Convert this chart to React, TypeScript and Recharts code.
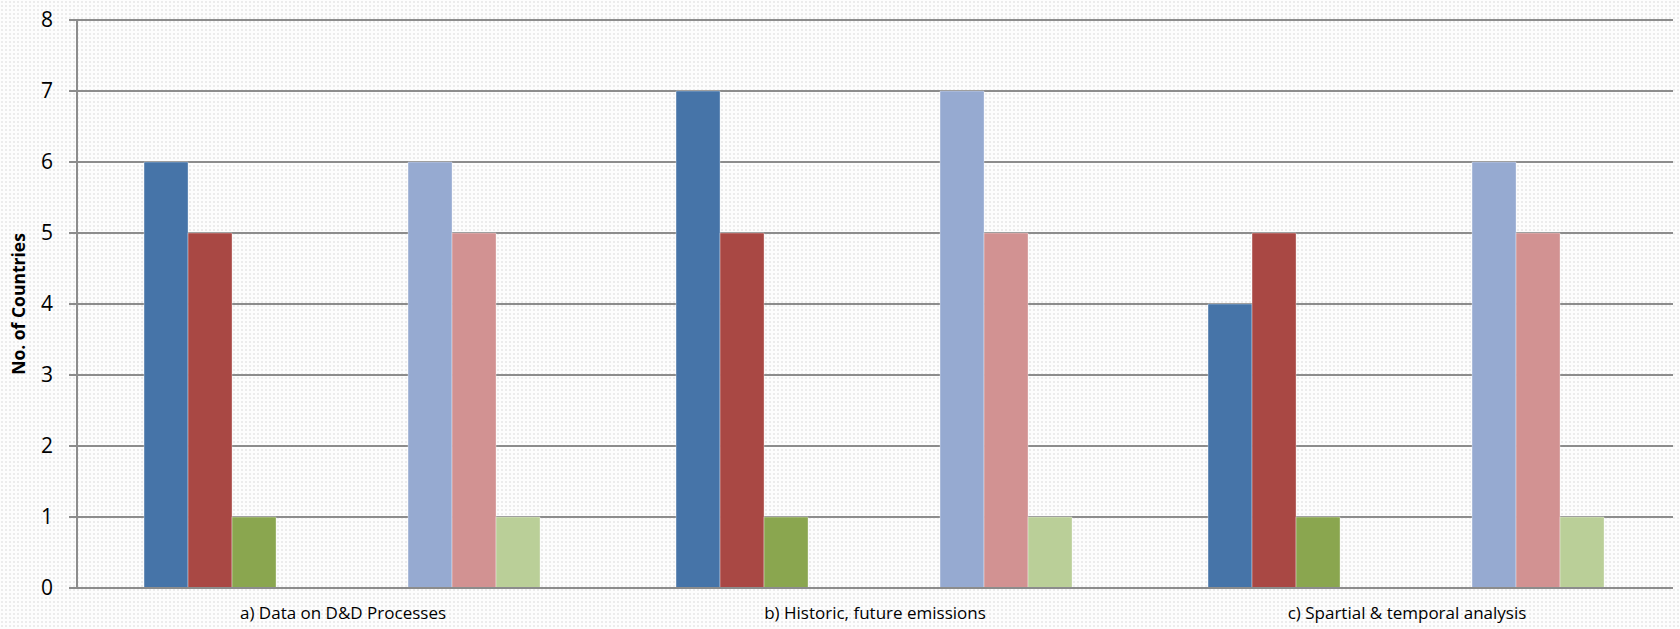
import React from "react";
import { BarChart, Bar, XAxis, YAxis, CartesianGrid } from "recharts";

const categories = [
  "a) Data on D&D Processes",
  "b) Historic, future emissions",
  "c) Spartial & temporal analysis",
];
const series1 = [6, 7, 4];
const series2 = [5, 5, 5];
const series3 = [1, 1, 1];
const series4 = [0, 0, 0];
const series5 = [0, 0, 0];
const series6 = [0, 0, 0];
const series7 = [6, 7, 6];
const series8 = [5, 5, 5];
const series9 = [1, 1, 1];
const yTicks = [0, 1, 2, 3, 4, 5, 6, 7, 8];

const seriesList = [series1, series2, series3, series4, series5, series6, series7, series8, series9];
const colors = ["#4674A8", "#A94844", "#8AA64F", "#4674A8", "#A94844", "#8AA64F", "#96AAD1", "#D29292", "#BACF98"];

const data = categories.map((name, i) => {
  const row: Record<string, string | number> = { name };
  seriesList.forEach((s, k) => {
    row["s" + (k + 1)] = s[i];
  });
  return row;
});

const FONT = "'Open Sans', 'Noto Sans', sans-serif";

export default function App() {
  return (
    <div
      style={{
        position: "absolute",
        left: 0,
        top: 0,
        width: 1680,
        height: 629,
        backgroundColor: "#fdfdfd",
        backgroundImage: "radial-gradient(#ececec 0.8px, transparent 1px)",
        backgroundSize: "4px 4px",
      }}
    >
      <BarChart
        width={1680}
        height={629}
        data={data}
        margin={{ top: 20, right: 7, left: 0, bottom: 0 }}
        barCategoryGap="12.6%"
        barGap={0}
      >
        <CartesianGrid vertical={false} stroke="#8C8C8C" strokeWidth={2} />
        <XAxis
          dataKey="name"
          height={41}
          tickLine={false}
          tickSize={0}
          tickMargin={19}
          axisLine={{ stroke: "#8C8C8C", strokeWidth: 2 }}
          tick={{ fill: "#000", fontSize: 17, fontFamily: FONT }}
          interval={0}
        />
        <YAxis
          width={77}
          domain={[0, 8]}
          ticks={yTicks}
          interval={0}
          tickSize={8}
          tickMargin={16}
          axisLine={{ stroke: "#8C8C8C", strokeWidth: 2 }}
          tickLine={{ stroke: "#8C8C8C", strokeWidth: 2 }}
          tick={{ fill: "#000", fontSize: 21, fontFamily: FONT }}
          label={{
            value: "No. of Countries",
            angle: -90,
            position: "insideLeft",
            dx: 14,
            style: { fontSize: 17.5, fontWeight: "bold", fontFamily: FONT, fill: "#000", textAnchor: "middle" },
          }}
        />
        {seriesList.map((_, k) => (
          <Bar
            key={k}
            dataKey={"s" + (k + 1)}
            fill={colors[k]}
            stroke="#ffffff"
            strokeOpacity={0.35}
            strokeWidth={1}
            isAnimationActive={false}
          />
        ))}
      </BarChart>
    </div>
  );
}
